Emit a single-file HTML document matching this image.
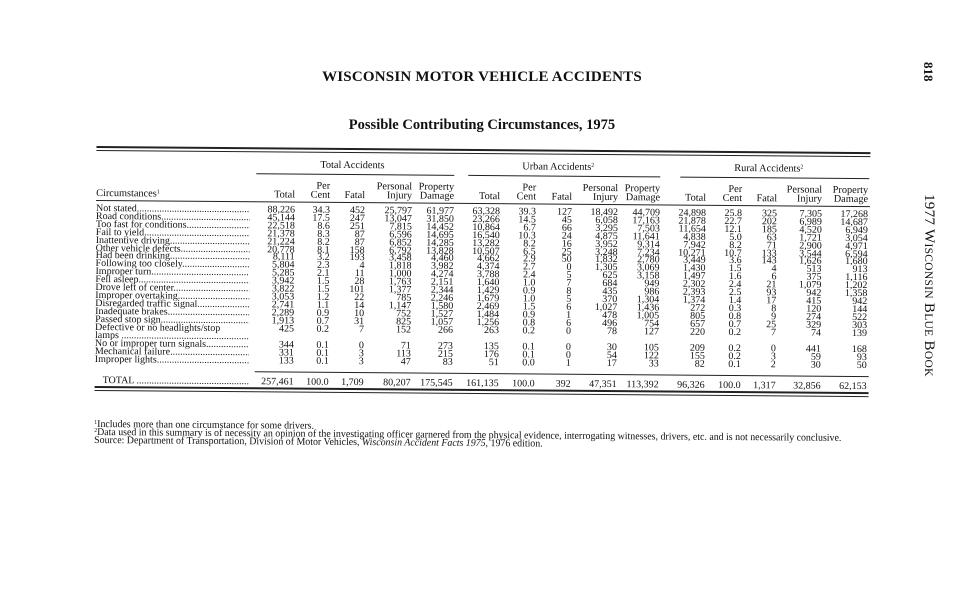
<!DOCTYPE html>
<html><head><meta charset="utf-8">
<style>
html,body{margin:0;padding:0;background:#fff;}
body{width:964px;height:600px;position:relative;overflow:hidden;font-family:"Liberation Serif",serif;color:#111;}
.a{position:absolute;white-space:nowrap;}
#wrap{position:absolute;left:0;top:0;width:964px;height:600px;transform-origin:96px 207px;transform:rotate(0.45deg);}
.c,.h{position:absolute;white-space:nowrap;font-size:10px;line-height:9px;text-align:right;}
.h{font-size:10.3px;}
.l{position:absolute;white-space:nowrap;font-size:10px;line-height:9px;}
.l div{line-height:9px;}
.rule{position:absolute;background:#222;}
.fn{position:absolute;font-size:10.3px;line-height:10px;white-space:nowrap;transform:scaleX(0.96);transform-origin:left top;}
.s{position:relative;top:-3px;font-size:6px;line-height:0;}
</style></head><body>
<div class="a" style="left:0;width:964px;top:69px;text-align:center;font-weight:bold;font-size:15px;letter-spacing:0.2px;">WISCONSIN MOTOR VEHICLE ACCIDENTS</div>
<div class="a" style="left:0;width:964px;top:117px;text-align:center;font-weight:bold;font-size:14.5px;">Possible Contributing Circumstances, 1975</div>
<div class="a" style="top:62px;transform:rotate(90deg);transform-origin:left top;font-weight:bold;font-size:13px;left:936px;">818</div>
<div class="a" style="left:937px;top:194px;transform:rotate(90deg);transform-origin:left top;font-size:15px;letter-spacing:0.3px;">1977 W<span style="font-size:11.5px">ISCONSIN</span> B<span style="font-size:11.5px">LUE</span> B<span style="font-size:11.5px">OOK</span></div>
<div id="wrap"></div>
<script>
var w=document.getElementById('wrap');
function add(cls,x,y,txt,st){var d=document.createElement('div');d.className=cls;d.style.top=y+'px';if(cls=='c'||cls=='h'){d.style.right=(964-x)+'px';}else d.style.left=x+'px';d.innerHTML=txt;if(st)d.style.cssText+=st;w.appendChild(d);}
function rule(x1,x2,y,h){var d=document.createElement('div');d.className='rule';d.style.left=x1+'px';d.style.width=(x2-x1)+'px';d.style.top=y+'px';d.style.height=(h||1)+'px';w.appendChild(d);}
rule(96,870,146,2);rule(96,870,150,1);
add('l',320,159,'Total Accidents','font-size:10.3px');add('l',522,159,'Urban Accidents<span class="s">2</span>','font-size:10.3px');add('l',734,159,'Rural Accidents<span class="s">2</span>','font-size:10.3px');
rule(256,454,172,1);rule(468,660,172,1);rule(680,869,172,1);
var R=[295,330,365,412,454,500,536,572,618,660,706,742,777,822,868];
var H1=['','Per','','Personal','Property','','Per','','Personal','Property','','Per','','Personal','Property'];
var H2=['Total','Cent','Fatal','Injury','Damage','Total','Cent','Fatal','Injury','Damage','Total','Cent','Fatal','Injury','Damage'];
for(var i=0;i<15;i++){add('h',R[i],180,H1[i]);add('h',R[i],189,H2[i]);}
add('l',96,189,'Circumstances<span class="s">1</span>','font-size:10.3px');
rule(96,870,200,1);
var D=[
['Not stated','88,226 34.3 452 25,797 61,977 63,328 39.3 127 18,492 44,709 24,898 25.8 325 7,305 17,268'],
['Road conditions','45,144 17.5 247 13,047 31,850 23,266 14.5 45 6,058 17,163 21,878 22.7 202 6,989 14,687'],
['Too fast for conditions','22,518 8.6 251 7,815 14,452 10,864 6.7 66 3,295 7,503 11,654 12.1 185 4,520 6,949'],
['Fail to yield','21,378 8.3 87 6,596 14,695 16,540 10.3 24 4,875 11,641 4,838 5.0 63 1,721 3,054'],
['Inattentive driving','21,224 8.2 87 6,852 14,285 13,282 8.2 16 3,952 9,314 7,942 8.2 71 2,900 4,971'],
['Other vehicle defects','20,778 8.1 158 6,792 13,828 10,507 6.5 25 3,248 7,234 10,271 10.7 133 3,544 6,594'],
['Had been drinking','8,111 3.2 193 3,458 4,460 4,662 2.9 50 1,832 2,780 3,449 3.6 143 1,626 1,680'],
['Following too closely','5,804 2.3 4 1,818 3,982 4,374 2.7 0 1,305 3,069 1,430 1.5 4 513 913'],
['Improper turn','5,285 2.1 11 1,000 4,274 3,788 2.4 5 625 3,158 1,497 1.6 6 375 1,116'],
['Fell asleep','3,942 1.5 28 1,763 2,151 1,640 1.0 7 684 949 2,302 2.4 21 1,079 1,202'],
['Drove left of center','3,822 1.5 101 1,377 2,344 1,429 0.9 8 435 986 2,393 2.5 93 942 1,358'],
['Improper overtaking','3,053 1.2 22 785 2,246 1,679 1.0 5 370 1,304 1,374 1.4 17 415 942'],
['Disregarded traffic signal','2,741 1.1 14 1,147 1,580 2,469 1.5 6 1,027 1,436 272 0.3 8 120 144'],
['Inadequate brakes','2,289 0.9 10 752 1,527 1,484 0.9 1 478 1,005 805 0.8 9 274 522'],
['Passed stop sign','1,913 0.7 31 825 1,057 1,256 0.8 6 496 754 657 0.7 25 329 303'],
['Defective or no headlights/stop','425 0.2 7 152 266 263 0.2 0 78 127 220 0.2 7 74 139'],
['No or improper turn signals','344 0.1 0 71 273 135 0.1 0 30 105 209 0.2 0 441 168'],
['Mechanical failure','331 0.1 3 113 215 176 0.1 0 54 122 155 0.2 3 59 93'],
['Improper lights','133 0.1 3 47 83 51 0.0 1 17 33 82 0.1 2 30 50']];
var dots='..............................................................';
function lbl(x,y,t){add('l',x,y,'<div style="width:'+(250-x)+'px;overflow:hidden">'+t+dots+'</div>');}
var y=204;
for(var r=0;r<D.length;r++){
 if(r==16)y+=8.5;
 if(r==15){add('l',96,y,D[r][0]);lbl(96,y+8,'lamps ');}
 else lbl(96,y,D[r][0]);
 var v=D[r][1].split(' ');for(var i=0;i<15;i++)add('c',R[i],y,v[i]);
 y+=7.9;
}
rule(256,870,370,1);
var T='257,461 100.0 1,709 80,207 175,545 161,135 100.0 392 47,351 113,392 96,326 100.0 1,317 32,856 62,153'.split(' ');
lbl(104,376,'TOTAL ');for(var i=0;i<15;i++)add('c',R[i],376,T[i]);
rule(96,870,386,2);rule(96,870,390,1);
add('fn',96,420,'<span class="s">1</span>Includes more than one circumstance for some drivers.');
add('fn',96,428,'<span class="s">2</span>Data used in this summary is of necessity an opinion of the investigating officer garnered from the physical evidence, interrogating witnesses, drivers, etc. and is not necessarily conclusive.');
add('fn',96,436,'Source: Department of Transportation, Division of Motor Vehicles, <i>Wisconsin Accident Facts 1975</i>, 1976 edition.');
</script>
</body></html>
